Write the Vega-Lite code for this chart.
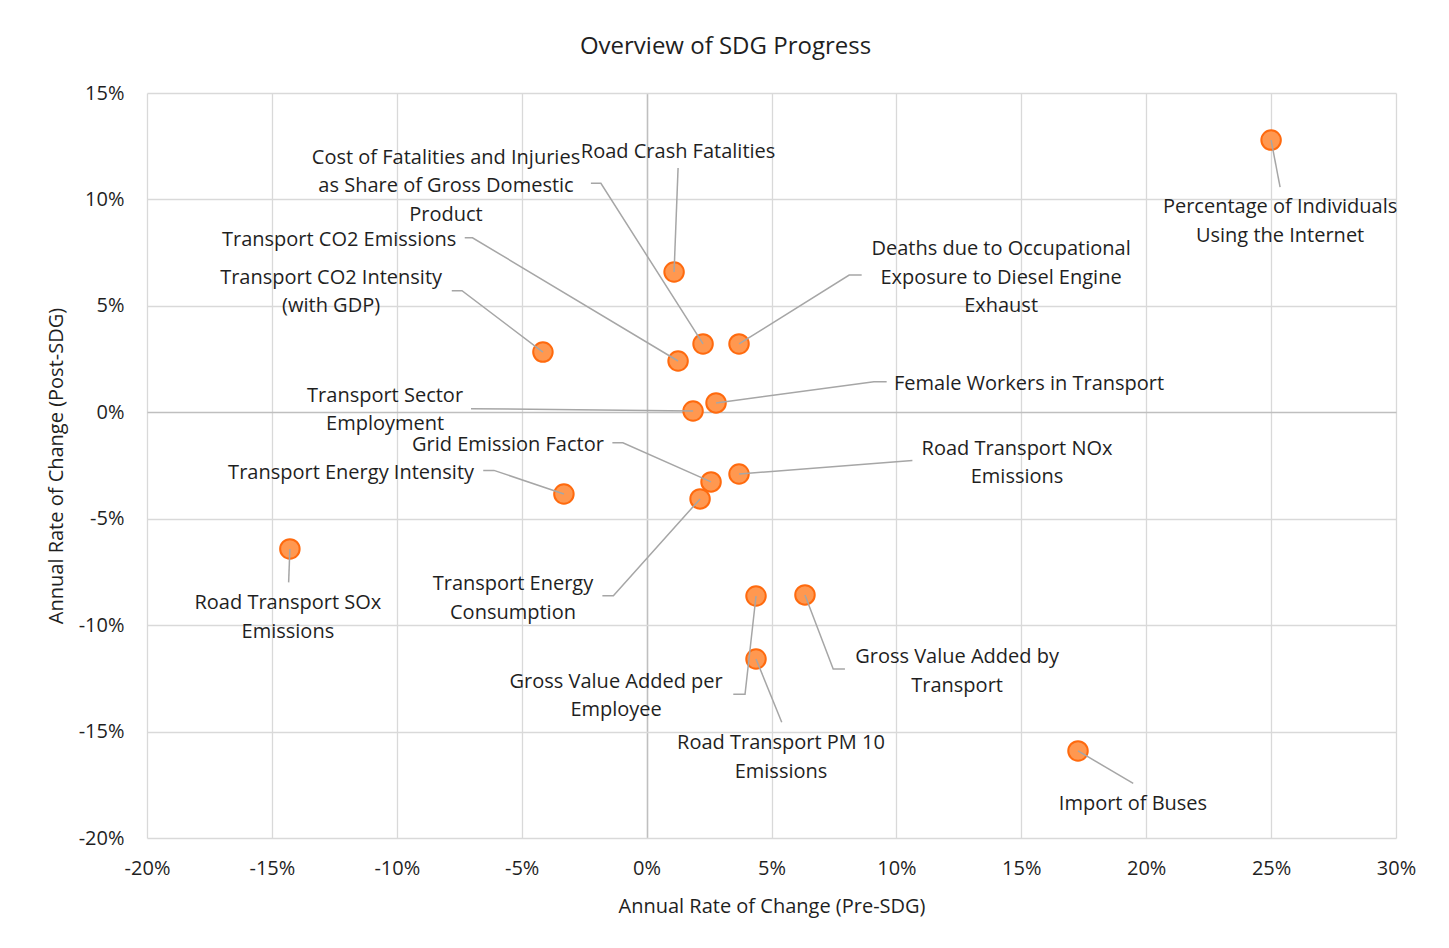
{
  "$schema": "https://vega.github.io/schema/vega-lite/v6.json",
  "autosize": {"type": "none"},
  "padding": {"left": 147, "top": 93, "right": 53, "bottom": 110},
  "width": 1249,
  "height": 745,
  "background": "white",
  "config": {
    "font": "Open Sans",
    "view": {"stroke": null},
    "title": {"fontSize": 24, "fontWeight": "normal", "color": "#1f1f1f"}
  },
  "title": {"text": "Overview of SDG Progress", "dx": -46, "offset": 24},
  "datasets": {
    "points": [
      {"indicator": "Percentage of Individuals Using the Internet", "x": 25.0, "y": 12.79},
      {"indicator": "Road Crash Fatalities", "x": 1.10, "y": 6.59},
      {"indicator": "Cost of Fatalities and Injuries as Share of Gross Domestic Product", "x": 2.26, "y": 3.21},
      {"indicator": "Transport CO2 Emissions", "x": 1.26, "y": 2.41},
      {"indicator": "Transport CO2 Intensity (with GDP)", "x": -4.15, "y": 2.83},
      {"indicator": "Deaths due to Occupational Exposure to Diesel Engine Exhaust", "x": 3.70, "y": 3.21},
      {"indicator": "Female Workers in Transport", "x": 2.78, "y": 0.44},
      {"indicator": "Road Transport NOx Emissions", "x": 3.70, "y": -2.90},
      {"indicator": "Transport Sector Employment", "x": 1.86, "y": 0.06},
      {"indicator": "Grid Emission Factor", "x": 2.58, "y": -3.27},
      {"indicator": "Transport Energy Intensity", "x": -3.31, "y": -3.84},
      {"indicator": "Transport Energy Consumption", "x": 2.14, "y": -4.07},
      {"indicator": "Road Transport SOx Emissions", "x": -14.28, "y": -6.42},
      {"indicator": "Gross Value Added per Employee", "x": 4.38, "y": -8.63},
      {"indicator": "Gross Value Added by Transport", "x": 6.34, "y": -8.58},
      {"indicator": "Road Transport PM 10 Emissions", "x": 4.38, "y": -11.59},
      {"indicator": "Import of Buses", "x": 17.27, "y": -15.91}
    ],
    "leaders": [
      {"id": 1, "k": 0, "x": 25.0, "y": 12.79}, {"id": 1, "k": 1, "x": 25.36, "y": 10.58},
      {"id": 2, "k": 0, "x": 1.10, "y": 6.59}, {"id": 2, "k": 1, "x": 1.26, "y": 11.48},
      {"id": 3, "k": 0, "x": 2.26, "y": 3.21}, {"id": 3, "k": 1, "x": -1.83, "y": 10.76}, {"id": 3, "k": 2, "x": -2.23, "y": 10.76},
      {"id": 4, "k": 0, "x": 1.26, "y": 2.41}, {"id": 4, "k": 1, "x": -6.97, "y": 8.20}, {"id": 4, "k": 2, "x": -7.28, "y": 8.20},
      {"id": 5, "k": 0, "x": -4.15, "y": 2.83}, {"id": 5, "k": 1, "x": -7.39, "y": 5.71}, {"id": 5, "k": 2, "x": -7.80, "y": 5.71},
      {"id": 6, "k": 0, "x": 3.70, "y": 3.21}, {"id": 6, "k": 1, "x": 8.11, "y": 6.45}, {"id": 6, "k": 2, "x": 8.61, "y": 6.45},
      {"id": 7, "k": 0, "x": 2.78, "y": 0.44}, {"id": 7, "k": 1, "x": 9.10, "y": 1.44}, {"id": 7, "k": 2, "x": 9.61, "y": 1.44},
      {"id": 8, "k": 0, "x": 3.70, "y": -2.90}, {"id": 8, "k": 1, "x": 10.64, "y": -2.27},
      {"id": 9, "k": 0, "x": 1.86, "y": 0.06}, {"id": 9, "k": 1, "x": -7.03, "y": 0.17},
      {"id": 10, "k": 0, "x": 2.58, "y": -3.27}, {"id": 10, "k": 1, "x": -0.95, "y": -1.43}, {"id": 10, "k": 2, "x": -1.37, "y": -1.43},
      {"id": 11, "k": 0, "x": -3.31, "y": -3.84}, {"id": 11, "k": 1, "x": -6.11, "y": -2.73}, {"id": 11, "k": 2, "x": -6.54, "y": -2.73},
      {"id": 12, "k": 0, "x": 2.14, "y": -4.07}, {"id": 12, "k": 1, "x": -1.33, "y": -8.62}, {"id": 12, "k": 2, "x": -1.77, "y": -8.62},
      {"id": 13, "k": 0, "x": -14.28, "y": -6.42}, {"id": 13, "k": 1, "x": -14.33, "y": -7.99},
      {"id": 14, "k": 0, "x": 4.38, "y": -8.63}, {"id": 14, "k": 1, "x": 3.94, "y": -13.25}, {"id": 14, "k": 2, "x": 3.47, "y": -13.25},
      {"id": 15, "k": 0, "x": 6.34, "y": -8.58}, {"id": 15, "k": 1, "x": 7.47, "y": -12.06}, {"id": 15, "k": 2, "x": 7.94, "y": -12.06},
      {"id": 16, "k": 0, "x": 4.38, "y": -11.59}, {"id": 16, "k": 1, "x": 5.41, "y": -14.56},
      {"id": 17, "k": 0, "x": 17.27, "y": -15.91}, {"id": 17, "k": 1, "x": 19.48, "y": -17.43}
    ],
    "labels": [
      {"id": 1, "x": 25.36, "y": 9.64, "text": "Percentage of Individuals\nUsing the Internet"},
      {"id": 2, "x": 1.26, "y": 12.23, "text": "Road Crash Fatalities"},
      {"id": 3, "x": -8.03, "y": 11.95, "text": "Cost of Fatalities and Injuries\nas Share of Gross Domestic\nProduct"},
      {"id": 4, "x": -12.31, "y": 8.09, "text": "Transport CO2 Emissions"},
      {"id": 5, "x": -12.63, "y": 6.31, "text": "Transport CO2 Intensity\n(with GDP)"},
      {"id": 6, "x": 14.19, "y": 7.67, "text": "Deaths due to Occupational\nExposure to Diesel Engine\nExhaust"},
      {"id": 7, "x": 15.31, "y": 1.33, "text": "Female Workers in Transport"},
      {"id": 8, "x": 14.83, "y": -1.72, "text": "Road Transport NOx\nEmissions"},
      {"id": 9, "x": -10.47, "y": 0.77, "text": "Transport Sector\nEmployment"},
      {"id": 10, "x": -5.55, "y": -1.54, "text": "Grid Emission Factor"},
      {"id": 11, "x": -11.83, "y": -2.85, "text": "Transport Energy Intensity"},
      {"id": 12, "x": -5.35, "y": -8.07, "text": "Transport Energy\nConsumption"},
      {"id": 13, "x": -14.36, "y": -8.96, "text": "Road Transport SOx\nEmissions"},
      {"id": 14, "x": -1.22, "y": -12.67, "text": "Gross Value Added per\nEmployee"},
      {"id": 15, "x": 12.43, "y": -11.50, "text": "Gross Value Added by\nTransport"},
      {"id": 16, "x": 5.38, "y": -15.54, "text": "Road Transport PM 10\nEmissions"},
      {"id": 17, "x": 19.47, "y": -18.40, "text": "Import of Buses"}
    ]
  },
  "encoding": {
    "x": {
      "field": "x", "type": "quantitative",
      "scale": {"domain": [-20, 30], "nice": false, "zero": false},
      "axis": {
        "title": "Annual Rate of Change (Pre-SDG)",
        "values": [-20, -15, -10, -5, 0, 5, 10, 15, 20, 25, 30],
        "labelExpr": "datum.value + '%'",
        "labelFlush": false,
        "domain": false, "ticks": false,
        "grid": true,
        "gridColor": {"condition": {"test": "datum.value === 0", "value": "#bfbfbf"}, "value": "#d9d9d9"},
        "gridWidth": {"condition": {"test": "datum.value === 0", "value": 1.6}, "value": 1.3},
        "labelFontSize": 20, "labelColor": "#1f1f1f", "labelPadding": 20,
        "titleFontSize": 20, "titleFontWeight": "normal", "titleColor": "#1f1f1f", "titlePadding": 18
      }
    },
    "y": {
      "field": "y", "type": "quantitative",
      "scale": {"domain": [-20, 15], "nice": false, "zero": false},
      "axis": {
        "title": "Annual Rate of Change (Post-SDG)",
        "values": [-20, -15, -10, -5, 0, 5, 10, 15],
        "labelExpr": "datum.value + '%'",
        "labelFlush": false,
        "domain": false, "ticks": false,
        "grid": true,
        "gridColor": {"condition": {"test": "datum.value === 0", "value": "#bfbfbf"}, "value": "#d9d9d9"},
        "gridWidth": {"condition": {"test": "datum.value === 0", "value": 1.6}, "value": 1.3},
        "labelFontSize": 20, "labelColor": "#1f1f1f", "labelPadding": 23,
        "titleFontSize": 20, "titleFontWeight": "normal", "titleColor": "#1f1f1f", "titlePadding": 12
      }
    }
  },
  "layer": [
    {
      "data": {"name": "points"},
      "mark": {"type": "circle", "size": 380, "fill": "#FF9850", "stroke": "#FF6A0E", "strokeWidth": 2, "opacity": 1}
    },
    {
      "data": {"name": "leaders"},
      "mark": {"type": "line", "color": "#a6a6a6", "strokeWidth": 1.5},
      "encoding": {
        "detail": {"field": "id", "type": "nominal"},
        "order": {"field": "k", "type": "quantitative"}
      }
    },
    {
      "data": {"name": "labels"},
      "mark": {"type": "text", "align": "center", "baseline": "middle", "fontSize": 20, "lineHeight": 28.5, "lineBreak": "\n", "color": "#1f1f1f"},
      "encoding": {
        "text": {"field": "text", "type": "nominal"}
      }
    }
  ]
}
